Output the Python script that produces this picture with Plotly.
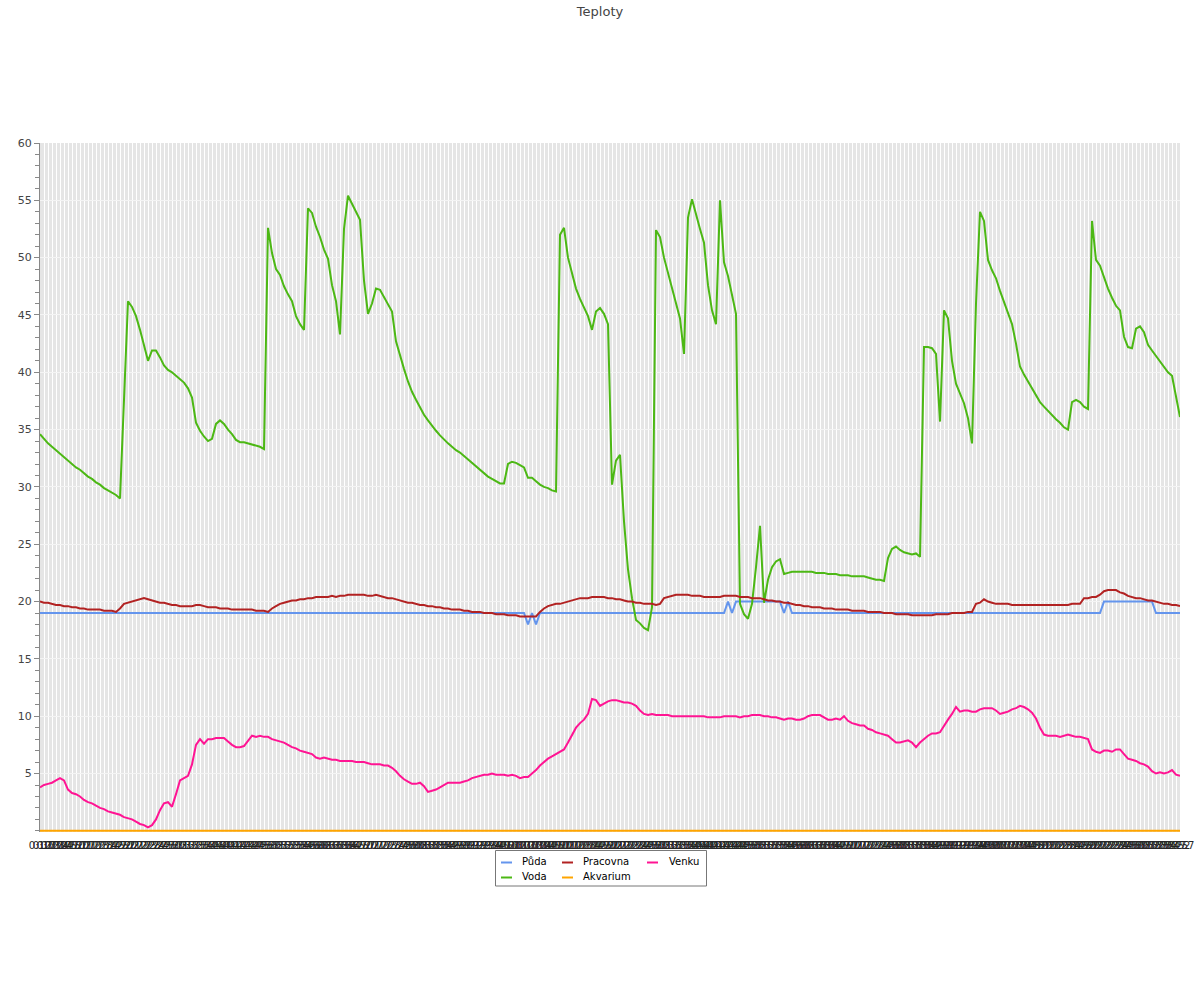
import plotly.graph_objects as go

N = 286
# time labels (every 5 minutes)
start_min = 0 * 60 + 12
time_labels = [f"{((start_min + 5 * k) // 60) % 24}:{(start_min + 5 * k) % 60:02d}" for k in range(N)]

puda = ([19.0] * 122 + [18.0, 19.0, 18.0] + [19.0] * 47 + [20.0, 19.0] + [20.0] * 12
        + [19.0, 20.0] + [19.0] * 78 + [20.0] * 13 + [19.0] * 7)

voda = [
    34.6, 34.2, 33.8, 33.5, 33.2, 32.9, 32.6, 32.3, 32.0, 31.7,
    31.5, 31.2, 30.9, 30.7, 30.4, 30.2, 29.9, 29.7, 29.5, 29.3,
    29.0, 38.0, 46.2, 45.7, 44.9, 43.7, 42.3, 41.0, 41.9, 41.9,
    41.3, 40.6, 40.2, 40.0, 39.7, 39.4, 39.1, 38.6, 37.8, 35.6,
    34.9, 34.4, 34.0, 34.2, 35.5, 35.8, 35.5, 35.0, 34.6, 34.1,
    33.9, 33.9, 33.8, 33.7, 33.6, 33.5, 33.3, 52.6, 50.4, 49.0,
    48.5, 47.5, 46.8, 46.2, 44.9, 44.2, 43.7, 54.3, 53.9, 52.7,
    51.8, 50.7, 49.9, 47.6, 46.2, 43.3, 52.5, 55.4, 54.7, 54.0,
    53.3, 48.0, 45.1, 46.0, 47.3, 47.2, 46.6, 46.0, 45.3, 42.7,
    41.4, 40.3, 39.2, 38.3, 37.6, 36.9, 36.3, 35.8, 35.3, 34.9,
    34.5, 34.1, 33.8, 33.5, 33.2, 33.0, 32.7, 32.4, 32.1, 31.8,
    31.5, 31.2, 30.9, 30.7, 30.5, 30.3, 30.3, 32.0, 32.2, 32.1,
    31.9, 31.7, 30.8, 30.8, 30.5, 30.2, 30.0, 29.9, 29.7, 29.6,
    52.0, 52.6, 50.0, 48.7, 47.3, 46.4, 45.6, 44.9, 43.7, 45.3,
    45.6, 45.1, 44.2, 30.2, 32.3, 32.8, 27.0, 22.8, 20.3, 18.4,
    18.1, 17.7, 17.5, 19.5, 52.4, 51.8, 50.0, 48.7, 47.4, 46.0,
    44.7, 41.6, 53.5, 55.1, 53.7, 52.5, 51.3, 47.6, 45.4, 44.2,
    55.0, 49.6, 48.4, 46.7, 45.1, 19.8, 18.9, 18.5, 19.8, 23.0,
    26.6, 19.9, 21.9, 23.0, 23.5, 23.7, 22.4, 22.5, 22.6, 22.6,
    22.6, 22.6, 22.6, 22.6, 22.5, 22.5, 22.5, 22.4, 22.4, 22.4,
    22.3, 22.3, 22.3, 22.2, 22.2, 22.2, 22.2, 22.1, 22.0, 21.9,
    21.9, 21.8, 23.8, 24.6, 24.8, 24.5, 24.3, 24.2, 24.1, 24.2,
    23.9, 42.2, 42.2, 42.1, 41.6, 35.7, 45.4, 44.7, 41.0, 39.0,
    38.2, 37.3, 36.0, 33.8, 46.0, 54.0, 53.2, 49.8, 48.9, 48.2,
    47.1, 46.1, 45.2, 44.2, 42.5, 40.5, 39.8, 39.2, 38.5, 37.9,
    37.4, 37.0, 36.6, 36.3, 35.9, 35.6, 35.2, 35.0, 37.4, 37.6,
    37.4, 37.0, 36.8, 53.2, 49.8, 49.3, 48.3, 47.3, 46.5, 45.8,
    45.4, 43.1, 42.2, 42.1, 43.8, 44.0, 43.5, 42.4, 41.9, 41.4,
    40.9, 40.4, 40.0, 39.7, 37.8, 36.1,
]

pracovna = [
    20.0, 19.9, 19.9, 19.8, 19.7, 19.7, 19.6, 19.6, 19.5, 19.5,
    19.4, 19.4, 19.3, 19.3, 19.3, 19.3, 19.2, 19.2, 19.2, 19.1,
    19.4, 19.8, 19.9, 20.0, 20.1, 20.2, 20.3, 20.2, 20.1, 20.0,
    19.9, 19.9, 19.8, 19.7, 19.7, 19.6, 19.6, 19.6, 19.6, 19.7,
    19.7, 19.6, 19.5, 19.5, 19.5, 19.4, 19.4, 19.4, 19.3, 19.3,
    19.3, 19.3, 19.3, 19.3, 19.2, 19.2, 19.2, 19.1, 19.4, 19.6,
    19.8, 19.9, 20.0, 20.1, 20.1, 20.2, 20.2, 20.3, 20.3, 20.4,
    20.4, 20.4, 20.4, 20.5, 20.4, 20.5, 20.5, 20.6, 20.6, 20.6,
    20.6, 20.6, 20.5, 20.5, 20.6, 20.5, 20.4, 20.3, 20.3, 20.2,
    20.1, 20.0, 19.9, 19.9, 19.8, 19.7, 19.7, 19.6, 19.6, 19.5,
    19.5, 19.4, 19.4, 19.3, 19.3, 19.3, 19.2, 19.2, 19.1, 19.1,
    19.1, 19.0, 19.0, 19.0, 18.9, 18.9, 18.9, 18.8, 18.8, 18.8,
    18.7, 18.7, 18.7, 18.7, 18.7, 19.1, 19.4, 19.6, 19.7, 19.8,
    19.8, 19.9, 20.0, 20.1, 20.2, 20.3, 20.3, 20.3, 20.4, 20.4,
    20.4, 20.4, 20.3, 20.3, 20.2, 20.2, 20.1, 20.0, 20.0, 19.9,
    19.9, 19.8, 19.8, 19.8, 19.7, 19.8, 20.3, 20.4, 20.5, 20.6,
    20.6, 20.6, 20.6, 20.5, 20.5, 20.5, 20.4, 20.4, 20.4, 20.4,
    20.4, 20.5, 20.5, 20.5, 20.5, 20.4, 20.4, 20.4, 20.3, 20.3,
    20.3, 20.2, 20.1, 20.1, 20.0, 20.0, 19.9, 19.9, 19.8, 19.7,
    19.7, 19.6, 19.6, 19.5, 19.5, 19.5, 19.4, 19.4, 19.4, 19.3,
    19.3, 19.3, 19.3, 19.2, 19.2, 19.2, 19.2, 19.1, 19.1, 19.1,
    19.1, 19.0, 19.0, 19.0, 18.9, 18.9, 18.9, 18.9, 18.8, 18.8,
    18.8, 18.8, 18.8, 18.8, 18.9, 18.9, 18.9, 18.9, 19.0, 19.0,
    19.0, 19.0, 19.1, 19.1, 19.8, 19.9, 20.2, 20.0, 19.9, 19.8,
    19.8, 19.8, 19.8, 19.7, 19.7, 19.7, 19.7, 19.7, 19.7, 19.7,
    19.7, 19.7, 19.7, 19.7, 19.7, 19.7, 19.7, 19.7, 19.8, 19.8,
    19.8, 20.3, 20.3, 20.4, 20.4, 20.6, 20.9, 21.0, 21.0, 21.0,
    20.8, 20.7, 20.5, 20.4, 20.3, 20.3, 20.2, 20.1, 20.1, 20.0,
    19.9, 19.8, 19.8, 19.7, 19.7, 19.6,
]

venku = [
    3.8, 4.0, 4.1, 4.2, 4.4, 4.6, 4.4, 3.6, 3.3, 3.2,
    3.0, 2.7, 2.5, 2.4, 2.2, 2.0, 1.9, 1.7, 1.6, 1.5,
    1.4, 1.2, 1.1, 1.0, 0.8, 0.6, 0.5, 0.3, 0.5, 1.0,
    1.8, 2.4, 2.5, 2.1, 3.2, 4.4, 4.6, 4.8, 5.8, 7.5,
    8.0, 7.6, 8.0, 8.0, 8.1, 8.1, 8.1, 7.8, 7.5, 7.3,
    7.3, 7.4, 7.8, 8.3, 8.2, 8.3, 8.2, 8.2, 8.0, 7.9,
    7.8, 7.7, 7.5, 7.3, 7.2, 7.0, 6.9, 6.8, 6.7, 6.4,
    6.3, 6.4, 6.3, 6.2, 6.2, 6.1, 6.1, 6.1, 6.1, 6.0,
    6.0, 6.0, 5.9, 5.8, 5.8, 5.8, 5.7, 5.7, 5.5, 5.2,
    4.8, 4.5, 4.3, 4.1, 4.1, 4.2, 3.9, 3.4, 3.5, 3.6,
    3.8, 4.0, 4.2, 4.2, 4.2, 4.2, 4.3, 4.4, 4.6, 4.7,
    4.8, 4.9, 4.9, 5.0, 4.9, 4.9, 4.9, 4.8, 4.9, 4.8,
    4.6, 4.7, 4.7, 5.0, 5.3, 5.7, 6.0, 6.3, 6.5, 6.7,
    6.9, 7.1, 7.7, 8.4, 9.0, 9.4, 9.7, 10.2, 11.5, 11.4,
    10.9, 11.1, 11.3, 11.4, 11.4, 11.3, 11.2, 11.2, 11.1, 10.9,
    10.5, 10.2, 10.1, 10.2, 10.1, 10.1, 10.1, 10.1, 10.0, 10.0,
    10.0, 10.0, 10.0, 10.0, 10.0, 10.0, 10.0, 9.9, 9.9, 9.9,
    9.9, 10.0, 10.0, 10.0, 10.0, 9.9, 10.0, 10.0, 10.1, 10.1,
    10.1, 10.0, 10.0, 9.9, 9.9, 9.8, 9.7, 9.8, 9.8, 9.7,
    9.7, 9.8, 10.0, 10.1, 10.1, 10.1, 9.9, 9.7, 9.7, 9.8,
    9.7, 10.0, 9.6, 9.4, 9.3, 9.2, 9.2, 8.9, 8.8, 8.6,
    8.5, 8.4, 8.3, 8.0, 7.7, 7.7, 7.8, 7.9, 7.7, 7.3,
    7.7, 8.0, 8.3, 8.5, 8.5, 8.6, 9.2, 9.7, 10.2, 10.8,
    10.4, 10.5, 10.5, 10.4, 10.4, 10.6, 10.7, 10.7, 10.7, 10.5,
    10.2, 10.3, 10.4, 10.6, 10.7, 10.9, 10.8, 10.6, 10.3, 9.8,
    9.0, 8.4, 8.3, 8.3, 8.3, 8.2, 8.3, 8.4, 8.3, 8.2,
    8.2, 8.1, 8.0, 7.1, 6.9, 6.8, 7.0, 7.0, 6.9, 7.1,
    7.1, 6.7, 6.3, 6.2, 6.1, 5.9, 5.8, 5.6, 5.2, 5.0,
    5.1, 5.0, 5.1, 5.3, 4.9, 4.8,
]

akvarium = [0.0] * N

for name, arr in [("puda", puda), ("voda", voda), ("pracovna", pracovna), ("venku", venku)]:
    assert len(arr) == N, (name, len(arr))

series_names = ["Půda", "Voda", "Pracovna", "Akvarium", "Venku"]
series_values = [puda, voda, pracovna, akvarium, venku]
series_colors = ["#6495ED", "#4CB814", "#B22222", "#FFA500", "#FF1493"]

fig = go.Figure()
for name, vals, color in zip(series_names, series_values, series_colors):
    fig.add_trace(go.Scatter(
        x=time_labels, y=vals, name=name, mode="lines",
        line=dict(color=color, width=2), showlegend=False,
    ))

# ---- manual legend (3 columns, column-major) ----
W, H = 1200, 1000
ML, MR, MT, MB = 40, 20, 143, 168
PW, PH = W - ML - MR, H - MT - MB


def px_x(px):
    return (px - ML) / PW


def px_y(py):
    return (H - MB - py) / PH


shapes = [dict(type="rect", xref="paper", yref="paper",
               x0=px_x(495.5), x1=px_x(706.5), y0=px_y(850.5), y1=px_y(886),
               line=dict(color="#777", width=1), fillcolor="white", layer="above")]
annotations = []
legend_slots = [(501, 520, 861.5), (501, 520, 876.5), (562, 581, 861.5),
                (562, 581, 876.5), (647, 667, 861.5)]
for (sx, tx, ry), name, color in zip(legend_slots, series_names, series_colors):
    shapes.append(dict(type="line", xref="paper", yref="paper",
                       x0=px_x(sx), x1=px_x(sx + 11), y0=px_y(ry + 1), y1=px_y(ry + 1),
                       line=dict(color=color, width=2), layer="above"))
    annotations.append(dict(xref="paper", yref="paper", x=px_x(tx), y=px_y(ry),
                            text=name, showarrow=False, xanchor="left", yanchor="middle",
                            font=dict(size=10, color="black", family="DejaVu Sans")))

fig.update_layout(
    width=W, height=H,
    margin=dict(l=ML, r=MR, t=MT, b=MB, autoexpand=False),
    paper_bgcolor="white",
    plot_bgcolor="#e5e5e5",
    font=dict(family="DejaVu Sans", color="#444"),
    title=dict(text="Teploty", x=0.5, xref="container", y=1 - 11 / H, yref="container",
               xanchor="center", yanchor="middle", font=dict(size=13, color="#444")),
    showlegend=False,
    shapes=shapes,
    annotations=annotations,
    xaxis=dict(type="category", range=[0, N - 1], tickmode="linear", dtick=1,
               tickangle=0, showgrid=True, gridcolor="white", gridwidth=1,
               ticks="", ticklabelstandoff=6, tickfont=dict(size=10, color="#262626"),
               showline=False, zeroline=False),
    yaxis=dict(range=[-0.1, 60], tickmode="array", tickvals=list(range(5, 61, 5)),
               ticks="outside", ticklen=5, tickcolor="#888", showline=True,
               linecolor="#888", linewidth=1, showgrid=True, gridcolor="#f4f4f4",
               gridwidth=1, zeroline=False, tickfont=dict(size=11, color="#444"),
               minor=dict(tickmode="array", tickvals=list(range(0, 61)), ticks="outside",
                          ticklen=4, tickcolor="#888", showgrid=False)),
)

fig.write_html("out.html", config={"displayModeBar": False},
               post_script="document.body.style.margin='0';")
